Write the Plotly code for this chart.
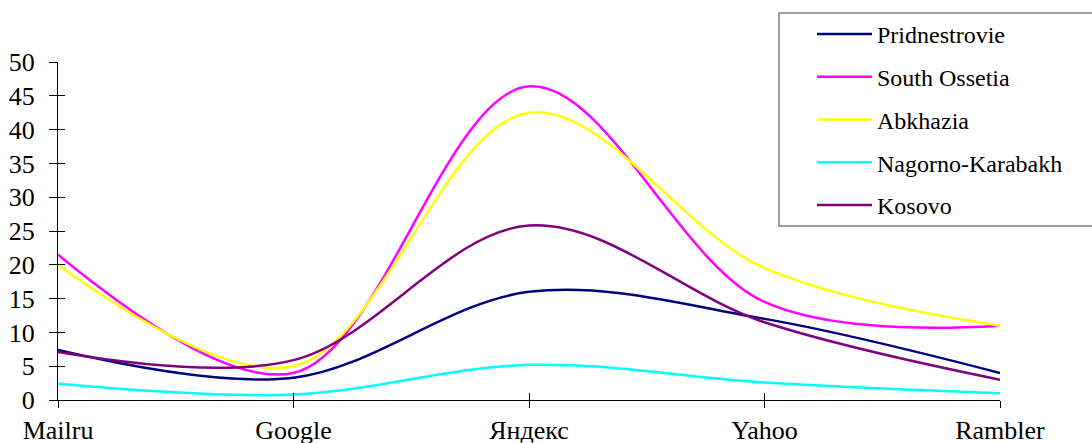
import plotly.graph_objects as go

categories = ["Mailru", "Google", "Яндекс", "Yahoo", "Rambler"]
pridnestrovie = [7.4, 3.3, 16.0, 12.0, 4.0]
south_ossetia = [21.5, 4.0, 46.4, 14.5, 11.0]
abkhazia = [20.0, 5.0, 42.5, 19.5, 11.0]
nagorno = [2.4, 0.8, 5.2, 2.6, 1.0]
kosovo = [7.1, 5.9, 25.8, 11.5, 3.0]
y_ticks = list(range(0, 51, 5))

series = [
    ("Pridnestrovie", pridnestrovie, "#000080"),
    ("South Ossetia", south_ossetia, "#FF00FF"),
    ("Abkhazia", abkhazia, "#FFFF00"),
    ("Nagorno-Karabakh", nagorno, "#00FFFF"),
    ("Kosovo", kosovo, "#800080"),
]

FAM = "Liberation Serif"
xs = list(range(len(categories)))
fig = go.Figure()
for i, (name, vals, col) in enumerate(series):
    fig.add_trace(go.Scatter(
        x=xs, y=vals, name=name, mode="lines",
        line=dict(color=col, width=2.5, shape="spline", smoothing=1.0),
        legendgroup=f"g{i}",
    ))

# invisible helper trace so the overlay axes (inner half of crossing ticks) are drawn
fig.add_trace(go.Scatter(
    x=xs, y=nagorno, xaxis="x2", yaxis="y2", mode="lines",
    line=dict(width=0), opacity=0, showlegend=False, hoverinfo="skip",
))

# plot area: x 58..1000, y 62..400 px
L, R, T, B = 58, 92, 62, 43
pw, ph = 1092 - L - R, 443 - T - B

def px_x(p):
    return (p - L) / pw

def px_y(p):
    return (443 - B - p) / ph

fig.add_shape(type="rect", xref="paper", yref="paper",
              x0=px_x(779), x1=px_x(1100), y0=px_y(226), y1=px_y(13),
              line=dict(color="#808080", width=1.5), fillcolor="white", layer="below")

tickfont = dict(family=FAM, color="black", size=26)
fig.update_layout(
    width=1092, height=443,
    margin=dict(l=L, r=R, t=T, b=B, autoexpand=False),
    paper_bgcolor="white", plot_bgcolor="rgba(0,0,0,0)",
    font=dict(family=FAM, color="black", size=24),
    showlegend=True,
    hovermode=False,
    legend=dict(
        x=px_x(812), y=px_y(12), xanchor="left", yanchor="top",
        borderwidth=0, bgcolor="rgba(0,0,0,0)",
        font=dict(family=FAM, color="black", size=24),
        tracegroupgap=8.5,
        itemwidth=55,
        maxheight=1.0,
    ),
    xaxis=dict(
        range=[0, 4], tickmode="array", tickvals=xs, ticktext=categories,
        showgrid=False, zeroline=False, showline=True, linecolor="black", linewidth=1,
        ticks="outside", ticklen=7, tickcolor="black", tickfont=tickfont,
        ticklabelstandoff=0, automargin=False,
    ),
    yaxis=dict(
        range=[0, 50], tickmode="array", tickvals=y_ticks,
        showgrid=False, zeroline=False, showline=True, linecolor="black", linewidth=1,
        ticks="outside", ticklen=8, tickcolor="black", tickfont=tickfont,
        ticklabelstandoff=9, automargin=False,
    ),
    xaxis2=dict(
        range=[0, 4], tickmode="array", tickvals=xs, showticklabels=False,
        overlaying="x", anchor="y2", side="bottom",
        showgrid=False, zeroline=False, showline=False,
        ticks="inside", ticklen=7, tickcolor="black", automargin=False,
    ),
    yaxis2=dict(
        range=[0, 50], tickmode="array", tickvals=y_ticks, showticklabels=False,
        overlaying="y", anchor="x2", side="left",
        showgrid=False, zeroline=False, showline=False,
        ticks="inside", ticklen=7, tickcolor="black", automargin=False,
    ),
)
fig.write_html(
    "out.html",
    config={"displayModeBar": False},
    post_script="document.body.style.margin='0';document.body.style.overflow='hidden';",
)
